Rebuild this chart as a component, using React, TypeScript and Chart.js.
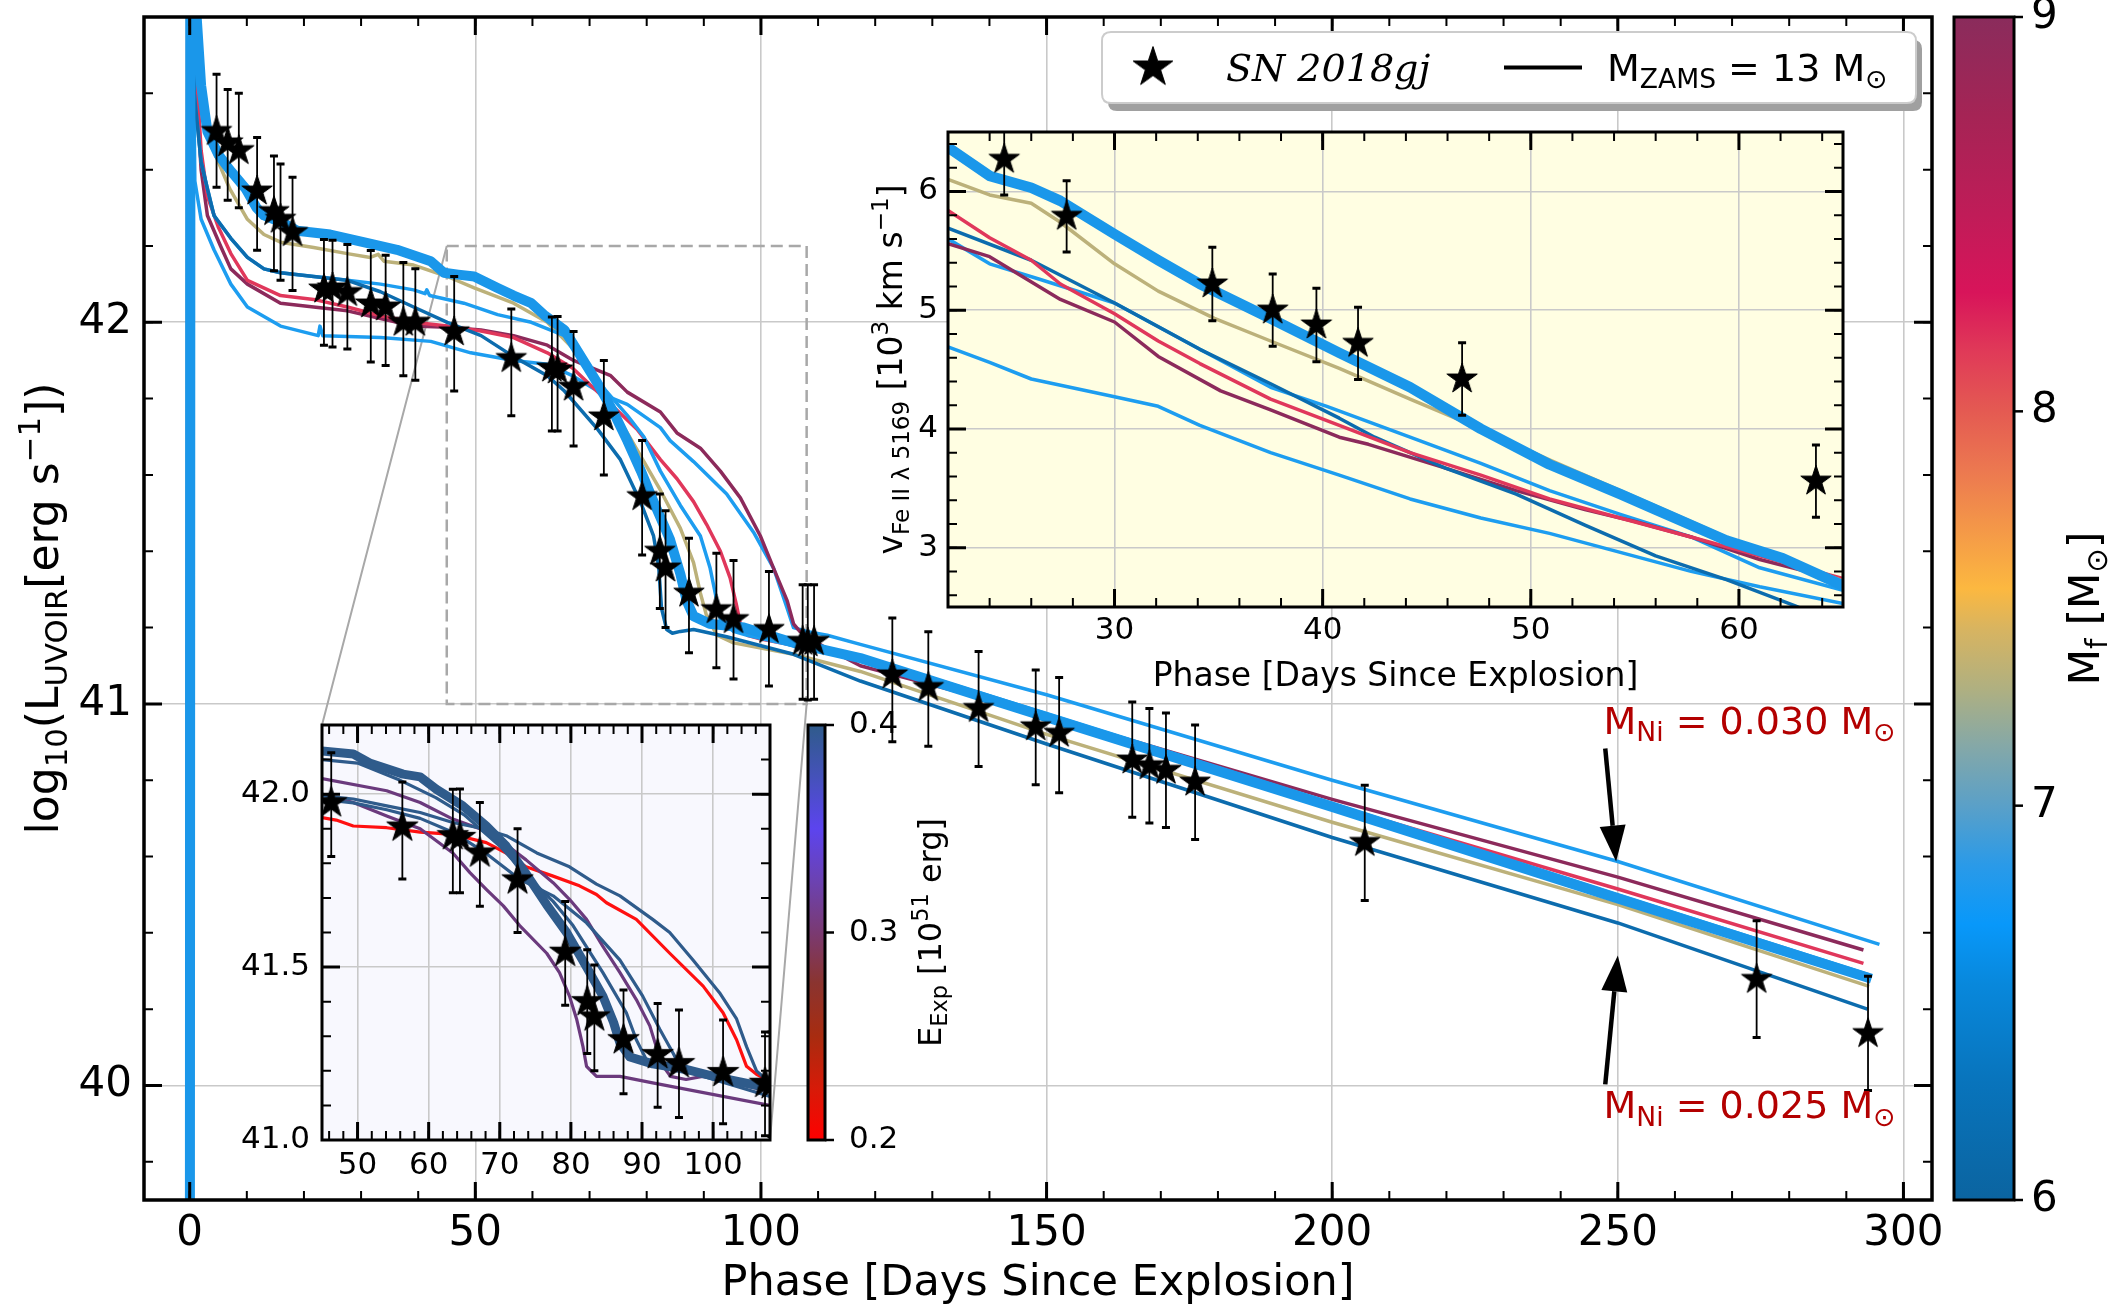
import React, { useEffect, useRef } from 'react';
import { Chart, registerables } from 'chart.js';
Chart.register(...registerables);

const PAGE_W = 2116;
const PAGE_H = 1305;
const SANS = '"DejaVu Sans", sans-serif';
const SERIF = '"DejaVu Serif", serif';

// ================= DATA =================
// SN 2018gj bolometric light curve
const snPhase = [4.7, 6.65, 8.6, 11.8, 14.75, 15.9, 18.0, 23.5, 25.0, 27.6, 31.7, 34.3, 37.4, 39.5, 46.3, 56.3, 63.4, 64.4, 67.2, 72.5, 79.2, 82.3, 83.3, 87.4, 92.2, 95.2, 101.4, 107.3, 108.2, 109.3, 123.0, 129.3, 138.1, 148.1, 152.2, 165.0, 168.0, 170.9, 176.0, 205.7, 274.3, 293.8];
const snLogL = [42.50, 42.47, 42.45, 42.344, 42.29, 42.27, 42.235, 42.087, 42.09, 42.078, 42.048, 42.04, 42.0, 42.0, 41.975, 41.905, 41.88, 41.875, 41.83, 41.752, 41.543, 41.40, 41.356, 41.29, 41.247, 41.221, 41.195, 41.164, 41.16, 41.164, 41.076, 41.043, 40.988, 40.94, 40.923, 40.853, 40.838, 40.826, 40.795, 40.637, 40.278, 40.136];
const snErrUp = [0.15, 0.14, 0.15, 0.14, 0.146, 0.145, 0.145, 0.13, 0.125, 0.126, 0.14, 0.136, 0.157, 0.14, 0.145, 0.13, 0.134, 0.14, 0.146, 0.148, 0.147, 0.15, 0.15, 0.144, 0.148, 0.155, 0.152, 0.148, 0.152, 0.148, 0.149, 0.146, 0.149, 0.149, 0.146, 0.152, 0.15, 0.15, 0.15, 0.15, 0.154, 0.15];
const snErrDown = [0.146, 0.15, 0.15, 0.155, 0.155, 0.16, 0.152, 0.147, 0.155, 0.148, 0.152, 0.153, 0.14, 0.152, 0.155, 0.15, 0.165, 0.16, 0.154, 0.152, 0.153, 0.15, 0.156, 0.156, 0.152, 0.156, 0.148, 0.152, 0.15, 0.152, 0.175, 0.154, 0.152, 0.152, 0.156, 0.15, 0.15, 0.15, 0.15, 0.152, 0.152, 0.149];

// Fe II 5169 velocities
const velPhase = [24.7, 27.7, 34.7, 37.6, 39.7, 41.7, 46.7, 63.7];
const velValue = [6.27, 5.79, 5.22, 5.0, 4.875, 4.72, 4.42, 3.56];
const velErr = [0.3, 0.3, 0.31, 0.305, 0.31, 0.305, 0.305, 0.305];

// Light-curve models (M_ZAMS = 13, coloured by final mass)
const lcBestPhase = [0, 0.15, 1, 2, 3.1, 5, 7, 9.8, 11.7, 13, 16.4, 18.8, 24.6, 30.4, 36.3, 42.2, 44.5, 47, 49.8, 53.9, 56.7, 59.8, 62, 65.6, 68.5, 71.4, 74, 76.6, 79, 81.2, 84.1, 85.9, 87, 88.2, 91, 97, 105.7, 117.4, 150, 200, 250, 294.4];
const lcBestLogL = [38.5, 43.5, 42.85, 42.62, 42.5, 42.44, 42.4, 42.35, 42.3, 42.28, 42.26, 42.24, 42.23, 42.21, 42.19, 42.16, 42.13, 42.125, 42.12, 42.09, 42.07, 42.05, 42.02, 41.98, 41.91, 41.84, 41.77, 41.69, 41.61, 41.53, 41.43, 41.34, 41.27, 41.23, 41.21, 41.2, 41.16, 41.12, 40.965, 40.73, 40.49, 40.28];

const lcTanPhase = [0, 0.15, 1, 2, 3.9, 7, 10.1, 13, 15.9, 21.7, 27.6, 31.6, 33, 34, 39.2, 45.1, 49.8, 56.7, 62.6, 67.2, 70.7, 76.6, 82.4, 85.9, 88.2, 89.4, 90.5, 92.3, 95.2, 105.7, 117.4, 150, 200, 250, 294];
const lcTanLogL = [38.5, 43.5, 42.8, 42.58, 42.46, 42.35, 42.27, 42.23, 42.21, 42.196, 42.18, 42.17, 42.178, 42.16, 42.15, 42.12, 42.09, 42.05, 42.0, 41.93, 41.85, 41.71, 41.56, 41.46, 41.37, 41.29, 41.23, 41.18, 41.16, 41.13, 41.085, 40.92, 40.69, 40.474, 40.26];

const lcDarkPhase = [-0.5, -0.4, 0.8, 2, 3.1, 4.25, 7.2, 10.1, 13, 15.9, 21.7, 27.6, 33.4, 39.2, 45.1, 51, 56.7, 62.6, 65.6, 71.4, 75.4, 78.9, 81.2, 82.1, 82.6, 83.5, 84.5, 85.9, 88.2, 94, 105.7, 117.4, 150, 200, 250, 293.7];
const lcDarkLogL = [38.5, 43.5, 42.6, 42.42, 42.35, 42.28, 42.22, 42.17, 42.14, 42.13, 42.12, 42.11, 42.08, 42.04, 42.0, 41.965, 41.91, 41.86, 41.82, 41.72, 41.64, 41.53, 41.44, 41.36, 41.25, 41.195, 41.185, 41.19, 41.195, 41.176, 41.13, 41.06, 40.895, 40.65, 40.426, 40.20];

const lcRedPhase = [0, 0.1, 1, 2, 3.1, 5, 7.2, 10.1, 15.9, 21.7, 27.6, 33.4, 39.2, 45.1, 51, 56.7, 62.6, 67, 73.7, 78.3, 82.4, 85.3, 88.2, 90.5, 92.9, 94.6, 95.7, 96.4, 97.6, 100, 117.4, 150, 200, 250, 293];
const lcRedLogL = [38.5, 43.5, 42.7, 42.45, 42.33, 42.25, 42.18, 42.11, 42.07, 42.06, 42.04, 42.017, 42.0, 41.99, 41.977, 41.96, 41.92, 41.88, 41.785, 41.72, 41.64, 41.59, 41.53, 41.47, 41.40, 41.33, 41.26, 41.21, 41.18, 41.17, 41.12, 40.965, 40.735, 40.515, 40.32];

const lcMaroonPhase = [0, 0.1, 1, 2, 3.1, 5.4, 7.2, 10.1, 15.9, 21.7, 27.6, 33.4, 39.2, 45.1, 51, 56.7, 62.6, 67.2, 73.7, 76.6, 82.4, 85.3, 89.4, 92.9, 96.4, 99.9, 102.2, 104.6, 105.7, 106.8, 111, 117.4, 150, 200, 250, 293];
const lcMaroonLogL = [38.5, 43.5, 42.65, 42.4, 42.28, 42.2, 42.14, 42.10, 42.05, 42.04, 42.03, 42.01, 41.99, 41.987, 41.98, 41.965, 41.94, 41.90, 41.86, 41.817, 41.765, 41.71, 41.67, 41.61, 41.54, 41.44, 41.356, 41.27, 41.21, 41.19, 41.15, 41.10, 40.97, 40.75, 40.546, 40.355];

const lcLowPlateauPhase = [0, 0.1, 0.9, 2, 4.25, 7.2, 10.1, 15.9, 22.5, 22.8, 23.3, 33.4, 42.2, 49.2, 56.7, 62.6, 67, 72.5, 76.6, 82.4, 84.1, 88.2, 94, 98.7, 102.2, 104.6, 105.7, 108, 111.6, 117.4, 150, 200, 250, 295.8];
const lcLowPlateauLogL = [38.5, 43.5, 42.37, 42.27, 42.19, 42.10, 42.04, 41.99, 41.965, 41.99, 41.965, 41.96, 41.95, 41.92, 41.90, 41.89, 41.86, 41.81, 41.785, 41.724, 41.69, 41.635, 41.55, 41.45, 41.356, 41.25, 41.2, 41.19, 41.18, 41.156, 41.024, 40.80, 40.587, 40.37];

const lcMidPlateauPhase = [0, 0.1, 0.8, 2, 3.1, 4.25, 7.2, 10.1, 13, 15.9, 21.7, 27.6, 33.4, 39.2, 41.2, 41.5, 42, 48, 53.9, 59.8, 65.6, 70, 76.6, 79.5, 82.4, 85.9, 89.4, 91.1, 92, 92.9, 95.2, 97.6, 105, 117.4, 150, 200, 250, 294];
const lcMidPlateauLogL = [38.5, 43.5, 42.6, 42.42, 42.35, 42.28, 42.22, 42.17, 42.14, 42.13, 42.12, 42.11, 42.10, 42.085, 42.075, 42.085, 42.07, 42.05, 42.02, 42.0, 41.965, 41.87, 41.756, 41.70, 41.61, 41.52, 41.44, 41.356, 41.29, 41.22, 41.19, 41.18, 41.155, 41.125, 40.975, 40.74, 40.50, 40.29];

// Velocity models
const vBestPhase = [22, 24, 26, 27.4, 30, 32.1, 34.1, 37.5, 40.8, 44.2, 47.6, 50.9, 54.3, 56, 59.4, 62.1, 65];
const vBestVel = [6.37, 6.13, 6.03, 5.92, 5.64, 5.42, 5.22, 4.93, 4.64, 4.35, 4.0, 3.70, 3.45, 3.32, 3.06, 2.91, 2.68];
const vTanPhase = [22, 24, 26, 27.4, 30, 32.1, 34.8, 37.5, 40.8, 44.2, 47.6, 50.9, 54.3, 57.7, 61, 65];
const vTanVel = [6.10, 5.97, 5.90, 5.74, 5.39, 5.16, 4.93, 4.74, 4.51, 4.25, 4.0, 3.74, 3.48, 3.22, 2.96, 2.72];
const vRedPhase = [22, 24, 26, 27.4, 30, 32.1, 34.1, 37.5, 40.8, 44.2, 47.6, 50.9, 54.3, 57.7, 61, 65];
const vRedVel = [5.84, 5.61, 5.42, 5.22, 4.97, 4.74, 4.55, 4.25, 4.03, 3.80, 3.61, 3.41, 3.25, 3.09, 2.93, 2.74];
const vDarkPhase = [22, 26, 30, 34.1, 37.5, 40.8, 42.5, 45.9, 49.3, 52.6, 56, 59.4, 62.7, 63.5];
const vDarkVel = [5.69, 5.42, 5.06, 4.67, 4.38, 4.09, 3.93, 3.67, 3.45, 3.19, 2.93, 2.73, 2.51, 2.45];
const vMaroonPhase = [22, 24, 27.4, 30, 32.1, 35.1, 37.5, 40.8, 42.2, 45.9, 49.3, 52.6, 55, 57.7, 61, 65];
const vMaroonVel = [5.56, 5.45, 5.09, 4.90, 4.61, 4.32, 4.16, 3.93, 3.87, 3.67, 3.48, 3.32, 3.22, 3.09, 2.90, 2.72];
const vMidPhase = [22, 24, 26.4, 30, 34.1, 37.5, 40.2, 44.2, 47.6, 50.9, 54.3, 57.7, 61, 65];
const vMidVel = [5.60, 5.39, 5.26, 5.06, 4.67, 4.35, 4.19, 3.93, 3.71, 3.48, 3.28, 3.09, 2.83, 2.64];
const vLowPhase = [22, 24, 26, 30, 32.1, 34.1, 37.5, 40.8, 44.2, 47.6, 50.9, 54.3, 57.7, 61, 65];
const vLowVel = [4.69, 4.56, 4.42, 4.27, 4.19, 4.03, 3.80, 3.61, 3.41, 3.25, 3.12, 2.96, 2.80, 2.67, 2.53];

// Inset: explosion-energy models
const eBestPhase = [45, 49.4, 51.7, 56.4, 58.8, 61.1, 64.8, 68.1, 70.9, 73.7, 76.6, 79.4, 82.2, 84.5, 86, 86.9, 88.3, 91.5, 96.2, 100.9, 108];
const eBestLogL = [42.125, 42.116, 42.09, 42.058, 42.05, 42.014, 41.966, 41.908, 41.85, 41.77, 41.68, 41.60, 41.50, 41.416, 41.34, 41.28, 41.24, 41.22, 41.204, 41.18, 41.15];
const ePurpleHiPhase = [45, 54.1, 58.8, 63.4, 67.2, 70.5, 73.7, 77.5, 79.8, 82.2, 84.5, 86.9, 89.2, 91.1, 92, 93, 94, 96.2, 98.5, 100, 108];
const ePurpleHiLogL = [42.045, 42.01, 41.976, 41.928, 41.90, 41.86, 41.81, 41.744, 41.696, 41.638, 41.56, 41.484, 41.406, 41.33, 41.27, 41.213, 41.184, 41.175, 41.184, 41.18, 41.14];
const ePurpleLoPhase = [45, 49.4, 54.1, 58.8, 63.4, 65.8, 68.1, 70.5, 72.8, 76.6, 78.4, 79.8, 80.8, 81.7, 82.2, 83.6, 86.9, 91.5, 108];
const ePurpleLoLogL = [42.0, 41.976, 41.937, 41.90, 41.83, 41.773, 41.725, 41.677, 41.62, 41.54, 41.484, 41.416, 41.35, 41.27, 41.213, 41.184, 41.184, 41.165, 41.10];
const eRedPhase = [45, 47, 49.4, 54.1, 58.8, 63.4, 68.1, 70.9, 73.7, 77.5, 81.2, 83.6, 85, 89.2, 93.9, 98.6, 101.4, 103.3, 104.7, 106.1, 108];
const eRedLogL = [41.932, 41.925, 41.908, 41.903, 41.89, 41.884, 41.86, 41.83, 41.79, 41.763, 41.735, 41.71, 41.686, 41.638, 41.54, 41.445, 41.368, 41.29, 41.213, 41.19, 41.17];
const eSteelAPhase = [45, 49.4, 54.1, 58.8, 63.4, 67.7, 70.9, 75.2, 79.8, 83.6, 86.9, 91.5, 93.9, 97.2, 100.9, 103.3, 104.7, 106.1, 108];
const eSteelALogL = [41.995, 41.986, 41.966, 41.947, 41.918, 41.90, 41.88, 41.83, 41.79, 41.74, 41.706, 41.638, 41.60, 41.52, 41.426, 41.35, 41.27, 41.20, 41.165];
const eSteelBPhase = [45, 49.4, 54.1, 58.8, 63.4, 68, 72.8, 77.5, 82.2, 86.9, 90.1, 92.5, 94.4, 95.3, 98.5, 108];
const eSteelBLogL = [41.985, 41.975, 41.955, 41.93, 41.89, 41.83, 41.754, 41.706, 41.628, 41.52, 41.416, 41.32, 41.25, 41.213, 41.194, 41.146];
const eSteelCPhase = [45, 50, 56, 61, 65, 70, 74, 77.5, 80.3, 84.5, 87.8, 89.2, 90.6, 93.9, 108];
const eSteelCLogL = [42.10, 42.09, 42.04, 41.99, 41.94, 41.85, 41.76, 41.69, 41.62, 41.484, 41.368, 41.29, 41.233, 41.213, 41.126];

// Tick labels
const mainXTicks = [0, 50, 100, 150, 200, 250, 300];
const mainYTicks = [40, 41, 42];
const mfTicks = [6, 7, 8, 9];
const velXTicks = [30, 40, 50, 60];
const velYTicks = [3, 4, 5, 6];
const insXTicks = [50, 60, 70, 80, 90, 100];
const insYTicks = [41.0, 41.5, 42.0];
const eTicks = [0.2, 0.3, 0.4];

// ================= STYLE =================
const C_BEST = '#1a97ea';
const C_LIGHT = '#1d9df0';
const C_DARK = '#0c6cae';
const C_TAN = '#bcb17a';
const C_RED = '#e0375b';
const C_MAROON = '#8c2a5b';
const C_STEEL = '#2f5b8b';
const C_PURPLE = '#6b3a7d';
const C_ERED = '#ff1010';
const GRID = '#c9c9c9';
const ANN = '#b30000';

const MAIN_AREA = { left: 144, top: 16, right: 1932, bottom: 1200 };
const VEL_AREA = { left: 948, top: 132, right: 1843, bottom: 607 };
const INS_AREA = { left: 322, top: 725, right: 770, bottom: 1140 };
const MAIN_CB = { left: 1954, right: 2014 };
const INS_CB = { left: 808, right: 825 };

const MF_STOPS: [number, string][] = [
  [0, '#0b64a0'], [0.1, '#0874bc'], [0.183, '#0888dc'], [0.233, '#0898fa'], [0.283, '#2a9ae8'],
  [0.333, '#5aa0c8'], [0.383, '#84a8a8'], [0.433, '#b0b080'], [0.483, '#d8b460'], [0.517, '#fcb840'],
  [0.567, '#f49848'], [0.617, '#ec7850'], [0.667, '#e45a52'], [0.717, '#e03a58'], [0.767, '#d8145a'],
  [0.833, '#c01c58'], [0.917, '#a52455'], [1, '#8a2c5c'],
];
const E_STOPS: [number, string][] = [
  [0, '#ff0000'], [0.12, '#d81a08'], [0.25, '#a82c10'], [0.38, '#8a3430'], [0.5, '#7a3a72'],
  [0.62, '#6c42b0'], [0.75, '#5c44ee'], [0.88, '#4452b8'], [1, '#2f5b8b'],
];

// ================= HELPERS =================
type Seg = { t: string; k?: 'sub' | 'sup' };

function range(start: number, stop: number, step: number) {
  const out: number[] = [];
  for (let i = 0; start + i * step <= stop + 1e-9; i++) out.push(+(start + i * step).toFixed(6));
  return out;
}

function starImage(r: number) {
  const size = Math.ceil(2 * r + 4);
  const c = document.createElement('canvas');
  c.width = size; c.height = size;
  const g = c.getContext('2d')!;
  g.translate(size / 2, size / 2);
  g.beginPath();
  for (let k = 0; k < 10; k++) {
    const rad = k % 2 === 0 ? r : r * 0.382;
    const ang = -Math.PI / 2 + (k * Math.PI) / 5;
    const px = rad * Math.cos(ang), py = rad * Math.sin(ang);
    if (k === 0) g.moveTo(px, py); else g.lineTo(px, py);
  }
  g.closePath();
  g.fillStyle = '#000';
  g.fill();
  g.lineWidth = 1;
  g.strokeStyle = '#000';
  g.stroke();
  return c;
}

function richWidth(ctx: CanvasRenderingContext2D, segs: Seg[], size: number, family: string, style: string) {
  let w = 0;
  for (const s of segs) {
    ctx.font = `${style} ${s.k ? size * 0.7 : size}px ${family}`;
    w += ctx.measureText(s.t).width;
  }
  return w;
}

function drawRich(ctx: CanvasRenderingContext2D, segs: Seg[], x: number, y: number, size: number,
  align = 'left', color = '#000', family = SANS, style = 'normal') {
  const w = richWidth(ctx, segs, size, family, style);
  let cx = align === 'center' ? x - w / 2 : align === 'right' ? x - w : x;
  ctx.fillStyle = color;
  ctx.textAlign = 'left';
  ctx.textBaseline = 'alphabetic';
  for (const s of segs) {
    const fs = s.k ? size * 0.7 : size;
    ctx.font = `${style} ${fs}px ${family}`;
    const dy = s.k === 'sub' ? size * 0.2 : s.k === 'sup' ? -size * 0.42 : 0;
    ctx.fillText(s.t, cx, y + dy);
    cx += ctx.measureText(s.t).width;
  }
}

function drawRichRot(ctx: CanvasRenderingContext2D, segs: Seg[], x: number, y: number, size: number, color = '#000') {
  ctx.save();
  ctx.translate(x, y);
  ctx.rotate(-Math.PI / 2);
  drawRich(ctx, segs, 0, 0, size, 'center', color);
  ctx.restore();
}

function lineDS(xs: number[], ys: number[], color: string, width: number) {
  return {
    data: xs.map((x, i) => ({ x, y: ys[i] })),
    showLine: true, borderColor: color, backgroundColor: color, borderWidth: width,
    pointRadius: 0, pointHoverRadius: 0, tension: 0, fill: false, clip: 0,
    borderJoinStyle: 'round', borderCapStyle: 'butt',
  };
}

function starDS(xs: number[], ys: number[], img: HTMLCanvasElement, r: number) {
  return {
    data: xs.map((x, i) => ({ x, y: ys[i] })),
    showLine: false, pointStyle: img, pointRadius: r, pointHoverRadius: r,
    borderColor: '#000', backgroundColor: '#000', clip: 0,
  };
}

function drawErrorBars(chart: any, xs: number[], ys: number[], up: number[], down: number[], capW: number) {
  const { ctx, chartArea: a } = chart;
  const sx = chart.scales.x, sy = chart.scales.y;
  ctx.save();
  ctx.beginPath();
  ctx.rect(a.left, a.top, a.right - a.left, a.bottom - a.top);
  ctx.clip();
  ctx.strokeStyle = '#000';
  for (let i = 0; i < xs.length; i++) {
    const px = sx.getPixelForValue(xs[i]);
    const y1 = sy.getPixelForValue(ys[i] + up[i]);
    const y2 = sy.getPixelForValue(ys[i] - down[i]);
    ctx.lineWidth = 1.8;
    ctx.beginPath(); ctx.moveTo(px, y1); ctx.lineTo(px, y2); ctx.stroke();
    ctx.lineWidth = 3;
    ctx.beginPath();
    ctx.moveTo(px - capW / 2, y1); ctx.lineTo(px + capW / 2, y1);
    ctx.moveTo(px - capW / 2, y2); ctx.lineTo(px + capW / 2, y2);
    ctx.stroke();
  }
  ctx.restore();
}

function drawFrame(chart: any, xMajor: number[], xMinor: number[], yMajor: number[], yMinor: number[],
  spineW: number, majLen: number, minLen: number) {
  const { ctx, chartArea: a } = chart;
  const sx = chart.scales.x, sy = chart.scales.y;
  ctx.save();
  ctx.strokeStyle = '#000';
  ctx.lineCap = 'butt';
  const inside = (p: number, lo: number, hi: number) => p > lo + 1 && p < hi - 1;
  const drawX = (vals: number[], len: number, w: number) => {
    ctx.lineWidth = w;
    ctx.beginPath();
    for (const v of vals) {
      const p = sx.getPixelForValue(v);
      if (!inside(p, a.left, a.right)) continue;
      ctx.moveTo(p, a.bottom); ctx.lineTo(p, a.bottom - len);
      ctx.moveTo(p, a.top); ctx.lineTo(p, a.top + len);
    }
    ctx.stroke();
  };
  const drawY = (vals: number[], len: number, w: number) => {
    ctx.lineWidth = w;
    ctx.beginPath();
    for (const v of vals) {
      const p = sy.getPixelForValue(v);
      if (!inside(p, a.top, a.bottom)) continue;
      ctx.moveTo(a.left, p); ctx.lineTo(a.left + len, p);
      ctx.moveTo(a.right, p); ctx.lineTo(a.right - len, p);
    }
    ctx.stroke();
  };
  drawX(xMinor, minLen, 2);
  drawY(yMinor, minLen, 2);
  drawX(xMajor, majLen, 3);
  drawY(yMajor, majLen, 3);
  ctx.lineWidth = spineW;
  ctx.strokeRect(a.left, a.top, a.right - a.left, a.bottom - a.top);
  ctx.restore();
}

function drawColorbar(ctx: CanvasRenderingContext2D, left: number, right: number, top: number, bottom: number,
  stops: [number, string][], ticks: number[], vmin: number, vmax: number, fontSize: number, fmt: (v: number) => string, labelGap: number) {
  const g = ctx.createLinearGradient(0, bottom, 0, top);
  stops.forEach(([f, c]) => g.addColorStop(f, c));
  ctx.save();
  ctx.fillStyle = g;
  ctx.fillRect(left, top, right - left, bottom - top);
  ctx.strokeStyle = '#000';
  ctx.lineWidth = 3;
  ctx.strokeRect(left, top, right - left, bottom - top);
  ctx.font = `${fontSize}px ${SANS}`;
  ctx.fillStyle = '#000';
  ctx.textAlign = 'left';
  ctx.textBaseline = 'middle';
  for (const v of ticks) {
    const py = bottom - ((v - vmin) / (vmax - vmin)) * (bottom - top);
    ctx.lineWidth = 2.5;
    ctx.beginPath(); ctx.moveTo(right, py); ctx.lineTo(right + 9, py); ctx.stroke();
    ctx.fillText(fmt(v), right + labelGap, py);
  }
  ctx.restore();
}

function roundRect(ctx: CanvasRenderingContext2D, x: number, y: number, w: number, h: number, r: number) {
  ctx.beginPath();
  ctx.moveTo(x + r, y);
  ctx.lineTo(x + w - r, y); ctx.quadraticCurveTo(x + w, y, x + w, y + r);
  ctx.lineTo(x + w, y + h - r); ctx.quadraticCurveTo(x + w, y + h, x + w - r, y + h);
  ctx.lineTo(x + r, y + h); ctx.quadraticCurveTo(x, y + h, x, y + h - r);
  ctx.lineTo(x, y + r); ctx.quadraticCurveTo(x, y, x + r, y);
  ctx.closePath();
}

function drawArrow(ctx: CanvasRenderingContext2D, x1: number, y1: number, x2: number, y2: number) {
  const ang = Math.atan2(y2 - y1, x2 - x1);
  const hl = 36, hw = 26;
  const bx = x2 - hl * Math.cos(ang), by = y2 - hl * Math.sin(ang);
  ctx.save();
  ctx.strokeStyle = '#000';
  ctx.fillStyle = '#000';
  ctx.lineWidth = 4.5;
  ctx.beginPath(); ctx.moveTo(x1, y1); ctx.lineTo(bx, by); ctx.stroke();
  ctx.beginPath();
  ctx.moveTo(x2, y2);
  ctx.lineTo(bx + (hw / 2) * Math.sin(ang), by - (hw / 2) * Math.cos(ang));
  ctx.lineTo(bx - (hw / 2) * Math.sin(ang), by + (hw / 2) * Math.cos(ang));
  ctx.closePath();
  ctx.fill();
  ctx.restore();
}

function baseOptions(area: any, yAxisW: number, xAxisH: number, xr: number[], yr: number[],
  xt: number[], yt: number[], tickFont: number, xPad: number, yPad: number, yFmt?: (v: number) => string) {
  return {
    animation: false,
    responsive: false,
    maintainAspectRatio: false,
    devicePixelRatio: 1,
    events: [],
    layout: {
      padding: {
        left: area.left - yAxisW, top: area.top,
        right: PAGE_W - area.right, bottom: PAGE_H - area.bottom - xAxisH,
      },
    },
    plugins: { legend: { display: false }, tooltip: { enabled: false }, title: { display: false } },
    scales: {
      x: {
        type: 'linear', position: 'bottom', min: xr[0], max: xr[1],
        afterBuildTicks: (s: any) => { s.ticks = xt.map((v) => ({ value: v })); },
        afterFit: (s: any) => { s.height = xAxisH; s.paddingLeft = 0; s.paddingRight = 0; s.paddingTop = 0; s.paddingBottom = 0; },
        grid: { color: GRID, lineWidth: 1.6, drawTicks: false },
        border: { display: false },
        ticks: { color: '#000', font: { family: 'DejaVu Sans', size: tickFont }, padding: xPad, maxRotation: 0, minRotation: 0, autoSkip: false },
      },
      y: {
        type: 'linear', position: 'left', min: yr[0], max: yr[1],
        afterBuildTicks: (s: any) => { s.ticks = yt.map((v) => ({ value: v })); },
        afterFit: (s: any) => { s.width = yAxisW; s.paddingLeft = 0; s.paddingRight = 0; s.paddingTop = 0; s.paddingBottom = 0; },
        grid: { color: GRID, lineWidth: 1.6, drawTicks: false },
        border: { display: false },
        ticks: {
          color: '#000', font: { family: 'DejaVu Sans', size: tickFont }, padding: yPad, autoSkip: false,
          callback: yFmt ? (v: any) => yFmt(Number(v)) : undefined,
        },
      },
    },
  };
}

// ================= CHARTS =================
function buildMain(canvas: HTMLCanvasElement) {
  const star = starImage(16);
  const legendStar = starImage(21);
  const plugin = {
    id: 'mainDecor',
    beforeDatasetsDraw(chart: any) {
      const { ctx } = chart;
      const sx = chart.scales.x, sy = chart.scales.y;
      const x0 = sx.getPixelForValue(45), x1 = sx.getPixelForValue(108);
      const y0 = sy.getPixelForValue(42.2), y1 = sy.getPixelForValue(41.0);
      ctx.save();
      ctx.strokeStyle = '#a8a8a8';
      ctx.lineWidth = 2;
      ctx.beginPath();
      ctx.moveTo(x0, y0); ctx.lineTo(INS_AREA.left, INS_AREA.top);
      ctx.moveTo(x1, y1); ctx.lineTo(INS_AREA.right, INS_AREA.bottom);
      ctx.stroke();
      ctx.lineWidth = 2.5;
      ctx.setLineDash([12, 6]);
      ctx.strokeRect(x0, y0, x1 - x0, y1 - y0);
      ctx.restore();
    },
    beforeDatasetDraw(chart: any, args: any) {
      if (args.index === 0) drawErrorBars(chart, snPhase, snLogL, snErrUp, snErrDown, 8);
    },
    afterDraw(chart: any) {
      const { ctx, chartArea: a } = chart;
      const sx = chart.scales.x, sy = chart.scales.y;
      drawFrame(chart, mainXTicks, range(-10, 310, 10), mainYTicks, range(39.6, 42.8, 0.2), 3.5, 18, 9);

      // colorbar
      drawColorbar(ctx, MAIN_CB.left, MAIN_CB.right, a.top, a.bottom, MF_STOPS, mfTicks, mfTicks[0], mfTicks[mfTicks.length - 1], 42, (v) => String(v), 17);
      drawRichRot(ctx, [{ t: 'M' }, { t: 'f', k: 'sub' }, { t: ' [M' }, { t: '⊙', k: 'sub' }, { t: ']' }], 2099, (a.top + a.bottom) / 2, 42);

      // axis titles
      drawRich(ctx, [{ t: 'Phase [Days Since Explosion]' }], (a.left + a.right) / 2, 1295, 43, 'center');
      drawRichRot(ctx, [{ t: 'log' }, { t: '10', k: 'sub' }, { t: '(L' }, { t: 'UVOIR', k: 'sub' }, { t: '[erg s' }, { t: '−1', k: 'sup' }, { t: '])' }], 58, (a.top + a.bottom) / 2, 44);

      // annotations
      drawRich(ctx, [{ t: 'M' }, { t: 'Ni', k: 'sub' }, { t: ' = 0.030 M' }, { t: '⊙', k: 'sub' }], sx.getPixelForValue(247.5), sy.getPixelForValue(40.922), 38, 'left', ANN);
      drawRich(ctx, [{ t: 'M' }, { t: 'Ni', k: 'sub' }, { t: ' = 0.025 M' }, { t: '⊙', k: 'sub' }], sx.getPixelForValue(247.5), sy.getPixelForValue(39.914), 38, 'left', ANN);
      drawArrow(ctx, sx.getPixelForValue(247.8), sy.getPixelForValue(40.883), sx.getPixelForValue(249.7), sy.getPixelForValue(40.587));
      drawArrow(ctx, sx.getPixelForValue(247.8), sy.getPixelForValue(40.003), sx.getPixelForValue(250.0), sy.getPixelForValue(40.341));

      // legend
      const lw = 814, lh = 71;
      const lx = a.right - 16 - lw, ly = a.top + 15;
      ctx.save();
      ctx.fillStyle = '#a0a0a0';
      roundRect(ctx, lx + 6, ly + 8, lw, lh, 9); ctx.fill();
      ctx.fillStyle = '#ffffff';
      roundRect(ctx, lx, ly, lw, lh, 9); ctx.fill();
      ctx.strokeStyle = '#cccccc'; ctx.lineWidth = 2; ctx.stroke();
      const cy = ly + lh / 2;
      ctx.drawImage(legendStar, lx + 51 - legendStar.width / 2, cy - legendStar.height / 2);
      drawRich(ctx, [{ t: 'SN 2018gj' }], lx + 124, cy + 13, 38, 'left', '#000', SERIF, 'italic');
      ctx.strokeStyle = '#000'; ctx.lineWidth = 4;
      ctx.beginPath(); ctx.moveTo(lx + 402, cy); ctx.lineTo(lx + 480, cy); ctx.stroke();
      drawRich(ctx, [{ t: 'M' }, { t: 'ZAMS', k: 'sub' }, { t: ' = 13 M' }, { t: '⊙', k: 'sub' }], lx + 505, cy + 13, 38, 'left');
      ctx.restore();
    },
  };
  return new Chart(canvas, {
    type: 'scatter',
    data: {
      datasets: [
        starDS(snPhase, snLogL, star, 16),
        lineDS(lcBestPhase, lcBestLogL, C_BEST, 10),
        lineDS(lcDarkPhase, lcDarkLogL, C_DARK, 3.5),
        lineDS(lcMidPlateauPhase, lcMidPlateauLogL, C_LIGHT, 3.5),
        lineDS(lcTanPhase, lcTanLogL, C_TAN, 3.5),
        lineDS(lcRedPhase, lcRedLogL, C_RED, 3.5),
        lineDS(lcMaroonPhase, lcMaroonLogL, C_MAROON, 3.5),
        lineDS(lcLowPlateauPhase, lcLowPlateauLogL, C_LIGHT, 3.5),
      ] as any,
    },
    options: baseOptions(MAIN_AREA, 144, 105, [-8, 305], [39.7, 42.8], mainXTicks, mainYTicks, 42, 9, 12) as any,
    plugins: [plugin],
  });
}

function buildVel(canvas: HTMLCanvasElement) {
  const star = starImage(16);
  const plugin = {
    id: 'velDecor',
    beforeDraw(chart: any) {
      const { ctx, chartArea: a } = chart;
      ctx.save(); ctx.fillStyle = '#fffee2'; ctx.fillRect(a.left, a.top, a.right - a.left, a.bottom - a.top); ctx.restore();
    },
    beforeDatasetDraw(chart: any, args: any) {
      if (args.index === 0) drawErrorBars(chart, velPhase, velValue, velErr, velErr, 8);
    },
    afterDraw(chart: any) {
      const { ctx, chartArea: a } = chart;
      drawFrame(chart, velXTicks, range(22, 64, 2), velYTicks, range(2.6, 6.4, 0.2), 3, 18, 9);
      drawRich(ctx, [{ t: 'Phase [Days Since Explosion]' }], (a.left + a.right) / 2, 686, 33, 'center');
      drawRichRot(ctx, [{ t: 'v' }, { t: 'Fe II λ 5169', k: 'sub' }, { t: ' [10' }, { t: '3', k: 'sup' }, { t: ' km s' }, { t: '−1', k: 'sup' }, { t: ']' }], 902, (a.top + a.bottom) / 2, 33);
    },
  };
  return new Chart(canvas, {
    type: 'scatter',
    data: {
      datasets: [
        starDS(velPhase, velValue, star, 16),
        lineDS(vBestPhase, vBestVel, C_BEST, 10.5),
        lineDS(vTanPhase, vTanVel, C_TAN, 3.5),
        lineDS(vRedPhase, vRedVel, C_RED, 3.5),
        lineDS(vDarkPhase, vDarkVel, C_DARK, 3.5),
        lineDS(vMaroonPhase, vMaroonVel, C_MAROON, 3.5),
        lineDS(vMidPhase, vMidVel, C_LIGHT, 3.5),
        lineDS(vLowPhase, vLowVel, C_LIGHT, 3.5),
      ] as any,
    },
    options: baseOptions(VEL_AREA, 120, 80, [22, 65], [2.5, 6.5], velXTicks, velYTicks, 31, 5, 10) as any,
    plugins: [plugin],
  });
}

function buildInset(canvas: HTMLCanvasElement) {
  const star = starImage(16.5);
  const plugin = {
    id: 'insDecor',
    beforeDraw(chart: any) {
      const { ctx, chartArea: a } = chart;
      ctx.save(); ctx.fillStyle = '#f8f8fe'; ctx.fillRect(a.left, a.top, a.right - a.left, a.bottom - a.top); ctx.restore();
    },
    beforeDatasetDraw(chart: any, args: any) {
      if (args.index === 0) drawErrorBars(chart, snPhase, snLogL, snErrUp, snErrDown, 8);
    },
    afterDraw(chart: any) {
      const { ctx, chartArea: a } = chart;
      drawFrame(chart, insXTicks, range(46, 108, 2), insYTicks, range(41.1, 42.2, 0.1), 3, 18, 9);
      drawColorbar(ctx, INS_CB.left, INS_CB.right, a.top, a.bottom, E_STOPS, eTicks, eTicks[0], eTicks[eTicks.length - 1], 31, (v) => v.toFixed(1), 24);
      drawRichRot(ctx, [{ t: 'E' }, { t: 'Exp', k: 'sub' }, { t: ' [10' }, { t: '51', k: 'sup' }, { t: ' erg]' }], 941, (a.top + a.bottom) / 2, 32);
    },
  };
  return new Chart(canvas, {
    type: 'scatter',
    data: {
      datasets: [
        starDS(snPhase, snLogL, star, 16.5),
        lineDS(eBestPhase, eBestLogL, C_STEEL, 9),
        lineDS(eSteelAPhase, eSteelALogL, C_STEEL, 3.2),
        lineDS(eSteelBPhase, eSteelBLogL, C_STEEL, 3.2),
        lineDS(eSteelCPhase, eSteelCLogL, C_STEEL, 3.2),
        lineDS(ePurpleHiPhase, ePurpleHiLogL, C_PURPLE, 3.2),
        lineDS(ePurpleLoPhase, ePurpleLoLogL, C_PURPLE, 3.2),
        lineDS(eRedPhase, eRedLogL, C_ERED, 3.2),
      ] as any,
    },
    options: baseOptions(INS_AREA, 120, 70, [45, 108], [41.0, 42.2], insXTicks, insYTicks, 31, 7, 12, (v) => v.toFixed(1)) as any,
    plugins: [plugin],
  });
}

export default function App() {
  const mainRef = useRef<HTMLCanvasElement>(null);
  const velRef = useRef<HTMLCanvasElement>(null);
  const insRef = useRef<HTMLCanvasElement>(null);
  useEffect(() => {
    document.body.style.margin = '0';
    document.body.style.overflow = 'hidden';
    const charts = [buildMain(mainRef.current!), buildVel(velRef.current!), buildInset(insRef.current!)];
    return () => charts.forEach((c) => c.destroy());
  }, []);
  const st: React.CSSProperties = { position: 'absolute', left: 0, top: 0, width: PAGE_W, height: PAGE_H };
  return (
    <div style={{ position: 'absolute', left: 0, top: 0, width: PAGE_W, height: PAGE_H, background: '#fff', overflow: 'hidden' }}>
      <canvas ref={mainRef} width={PAGE_W} height={PAGE_H} style={st} />
      <canvas ref={velRef} width={PAGE_W} height={PAGE_H} style={st} />
      <canvas ref={insRef} width={PAGE_W} height={PAGE_H} style={st} />
    </div>
  );
}
